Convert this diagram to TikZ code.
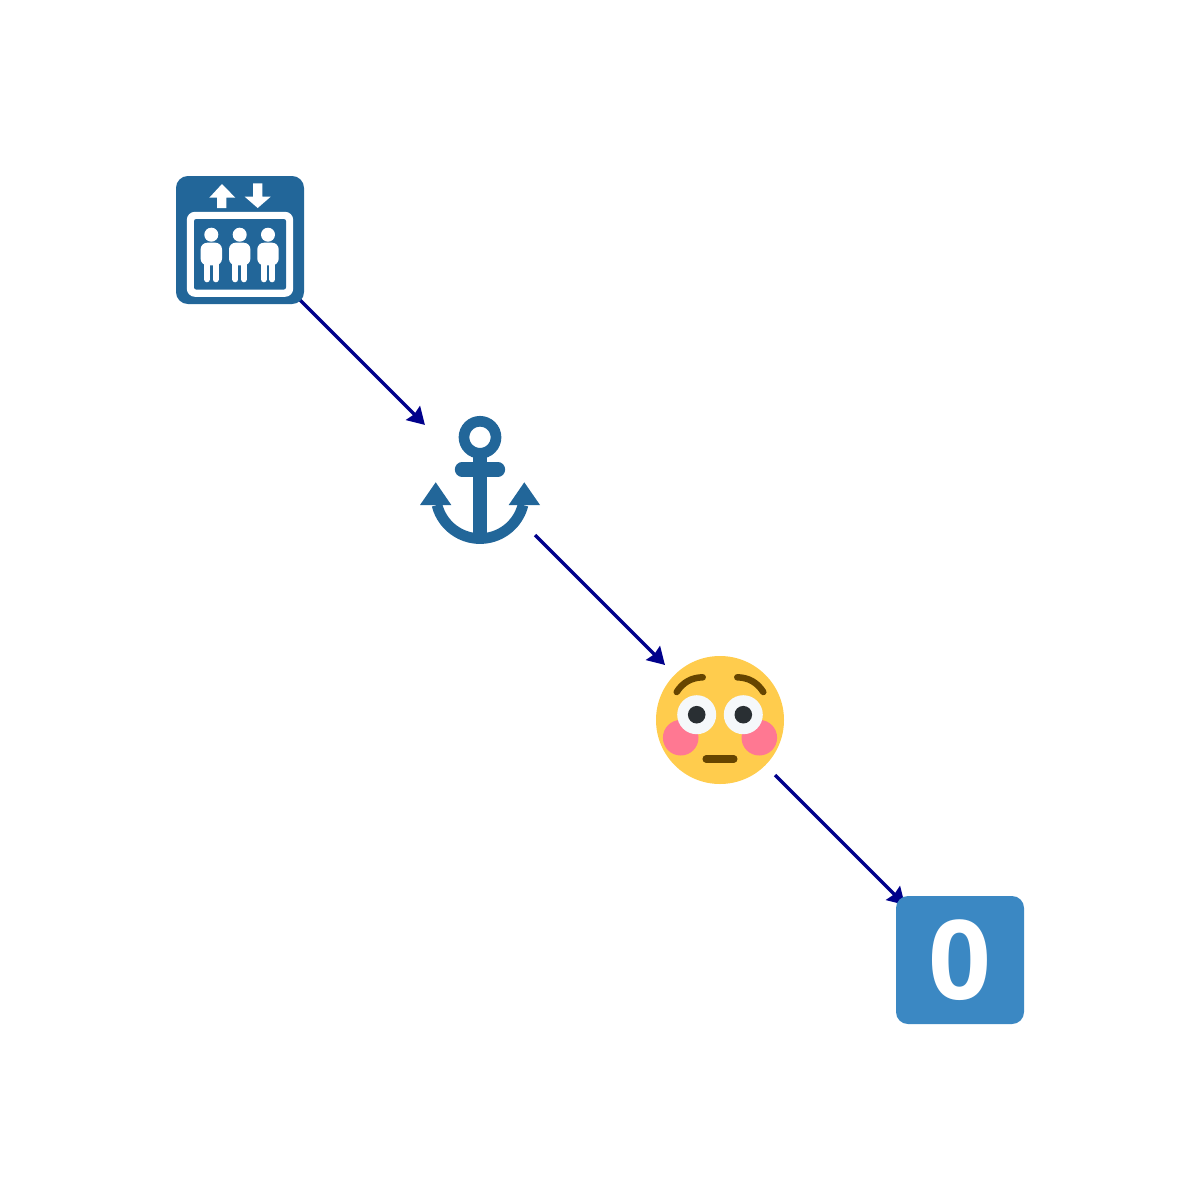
\documentclass[tikz,border=0pt]{standalone}
\usepackage{fontspec}
\setmainfont{Open Sans}
\usetikzlibrary{arrows.meta}
\definecolor{liftblue}{HTML}{226699}
\definecolor{keyblue}{HTML}{3B88C3}
\definecolor{facegold}{HTML}{FFCC4D}
\definecolor{cheekpink}{HTML}{FF7892}
\definecolor{eyewhite}{HTML}{F5F8FA}
\definecolor{pupilgrey}{HTML}{292F33}
\definecolor{browbrown}{HTML}{664500}
\definecolor{linkblue}{HTML}{00008B}
\tikzset{
  icon/.style={circle, minimum size=1.556cm, inner sep=0pt, outer sep=0pt},
  link/.style={draw=linkblue, line width=.95pt, -{Stealth[length=4.8pt,width=5.6pt,inset=.5pt]}},
  browline/.style={draw=browbrown, line width=1.85pt, line cap=round},
}
\begin{document}
\begin{tikzpicture}[x=.01cm, y=-.01cm]
  \useasboundingbox (0,0) rectangle (1200,1200);
  \node[icon] (lift) at (240,240) {};
  \node[icon] (hook) at (480,480) {};
  \node[icon] (face) at (720,720) {};
  \node[icon] (zero) at (960,960) {};
  \foreach \a/\b in {lift/hook,hook/face,face/zero}
    \draw[link] (\a) -- (\b);
  % lift sign
  \fill[liftblue, rounded corners=3.4pt] (176,176) rectangle (304,304);
  \fill[white, rounded corners=2.3pt] (186.8,211.8) rectangle (293.2,296.8);
  \fill[liftblue, rounded corners=.6pt] (194,219) rectangle (286,289.5);
  \fill[white] (222,184) -- (235.3,197.7) -- (226.3,197.7) -- (226.3,208) -- (217,208) -- (217,197.7) -- (209.3,197.7) -- cycle;
  \fill[white] (257.7,208) -- (270.7,196.7) -- (262.3,196.7) -- (262.3,183.3) -- (253,183.3) -- (253,196.7) -- (244.7,196.7) -- cycle;
  \foreach \x in {211.3,239.7,268} {
    \fill[white] (\x,234.7) circle (7);
    \fill[white, rounded corners=1.9pt] (\x-10.7,242.7) rectangle (\x+10.7,265.3);
    \draw[white, line width=1.71pt, line cap=round] (\x-4.3,262) -- (\x-4.3,279.3) (\x+4.3,262) -- (\x+4.3,279.3);
  }
  % anchor
  \draw[liftblue, line width=3.04pt] (480,437.3) circle (16);
  \draw[liftblue, line width=4.07pt, line cap=round] (462,469.5) -- (498,469.5);
  \draw[liftblue, line width=3.98pt] (480,452) -- (480,535);
  \draw[liftblue, line width=3.04pt] (437,505) arc[start angle=166, end angle=14, radius=44.3];
  \fill[liftblue] (435.7,482.3) -- (451.3,505) -- (420,505) -- cycle;
  \fill[liftblue] (524.3,482.3) -- (540,505) -- (508.7,505) -- cycle;
  % flushed face
  \fill[facegold] (720,720) circle (64);
  \foreach \x in {680.7,759.3}
    \fill[cheekpink] (\x,737.7) circle (17.8);
  \foreach \x in {696.7,743.3} {
    \fill[eyewhite] (\x,714.7) circle (19.5);
    \fill[pupilgrey] (\x,714.7) circle (8.8);
  }
  \draw[browline] (676.7,692) .. controls (683,682) and (692,677.5) .. (702.7,677.3);
  \draw[browline] (763.3,692) .. controls (757,682) and (748,677.5) .. (737.3,677.3);
  \draw[browbrown, line width=2pt, line cap=round] (706,759) -- (734,759);
  % keycap
  \fill[keyblue, rounded corners=3.4pt] (896,896) rectangle (1024,1024);
  \node[white, font=\fontsize{31.3pt}{31.3pt}\selectfont\bfseries, inner sep=0pt] (zerodigit) at (960,960) {0};
\end{tikzpicture}
\end{document}
